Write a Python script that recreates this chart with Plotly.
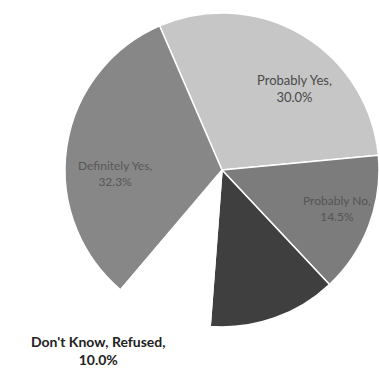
import plotly.graph_objects as go

# Data
categories = ["Probably Yes", "Probably No", "Definitely No", "Don't Know, Refused", "Definitely Yes"]
values = [30.0, 14.5, 13.2, 10.0, 32.3]

# Styles
colors = ["#c6c6c6", "#7c7c7c", "#3f3f3f", "#ffffff", "#878787"]
text_colors = ["#4a4a4a", "#555555", "#424242", "#222222", "#585858"]
label_pos = [(0.778, 0.762), (0.89, 0.442), (0.683, 0.268), (0.259, 0.059), (0.303, 0.536)]
label_size = [13, 12, 12, 14, 12]
label_bold = [False, False, False, True, False]

fig = go.Figure(
    go.Pie(
        labels=categories,
        values=values,
        sort=False,
        direction="clockwise",
        rotation=-23.4,
        marker=dict(colors=colors, line=dict(color="#ffffff", width=1.5)),
        textinfo="none",
        hoverinfo="label+percent",
        domain=dict(x=[0.1715, 1.0], y=[0.1233, 0.9651]),
        showlegend=False,
    )
)

for cat, val, (px, py), fs, b, tc in zip(categories, values, label_pos, label_size, label_bold, text_colors):
    txt = f"{cat},<br>{val:.1f}%"
    if b:
        txt = f"<b>{txt}</b>"
    fig.add_annotation(
        x=px, y=py, xref="paper", yref="paper", text=txt, showarrow=False,
        xanchor="center", yanchor="middle",
        font=dict(family="Lato, Liberation Sans, sans-serif", size=fs, color=tc),
        align="center",
    )

fig.update_layout(
    width=379, height=373,
    margin=dict(l=0, r=0, t=0, b=0),
    paper_bgcolor="white", plot_bgcolor="white",
)

fig.write_html("out.html")
